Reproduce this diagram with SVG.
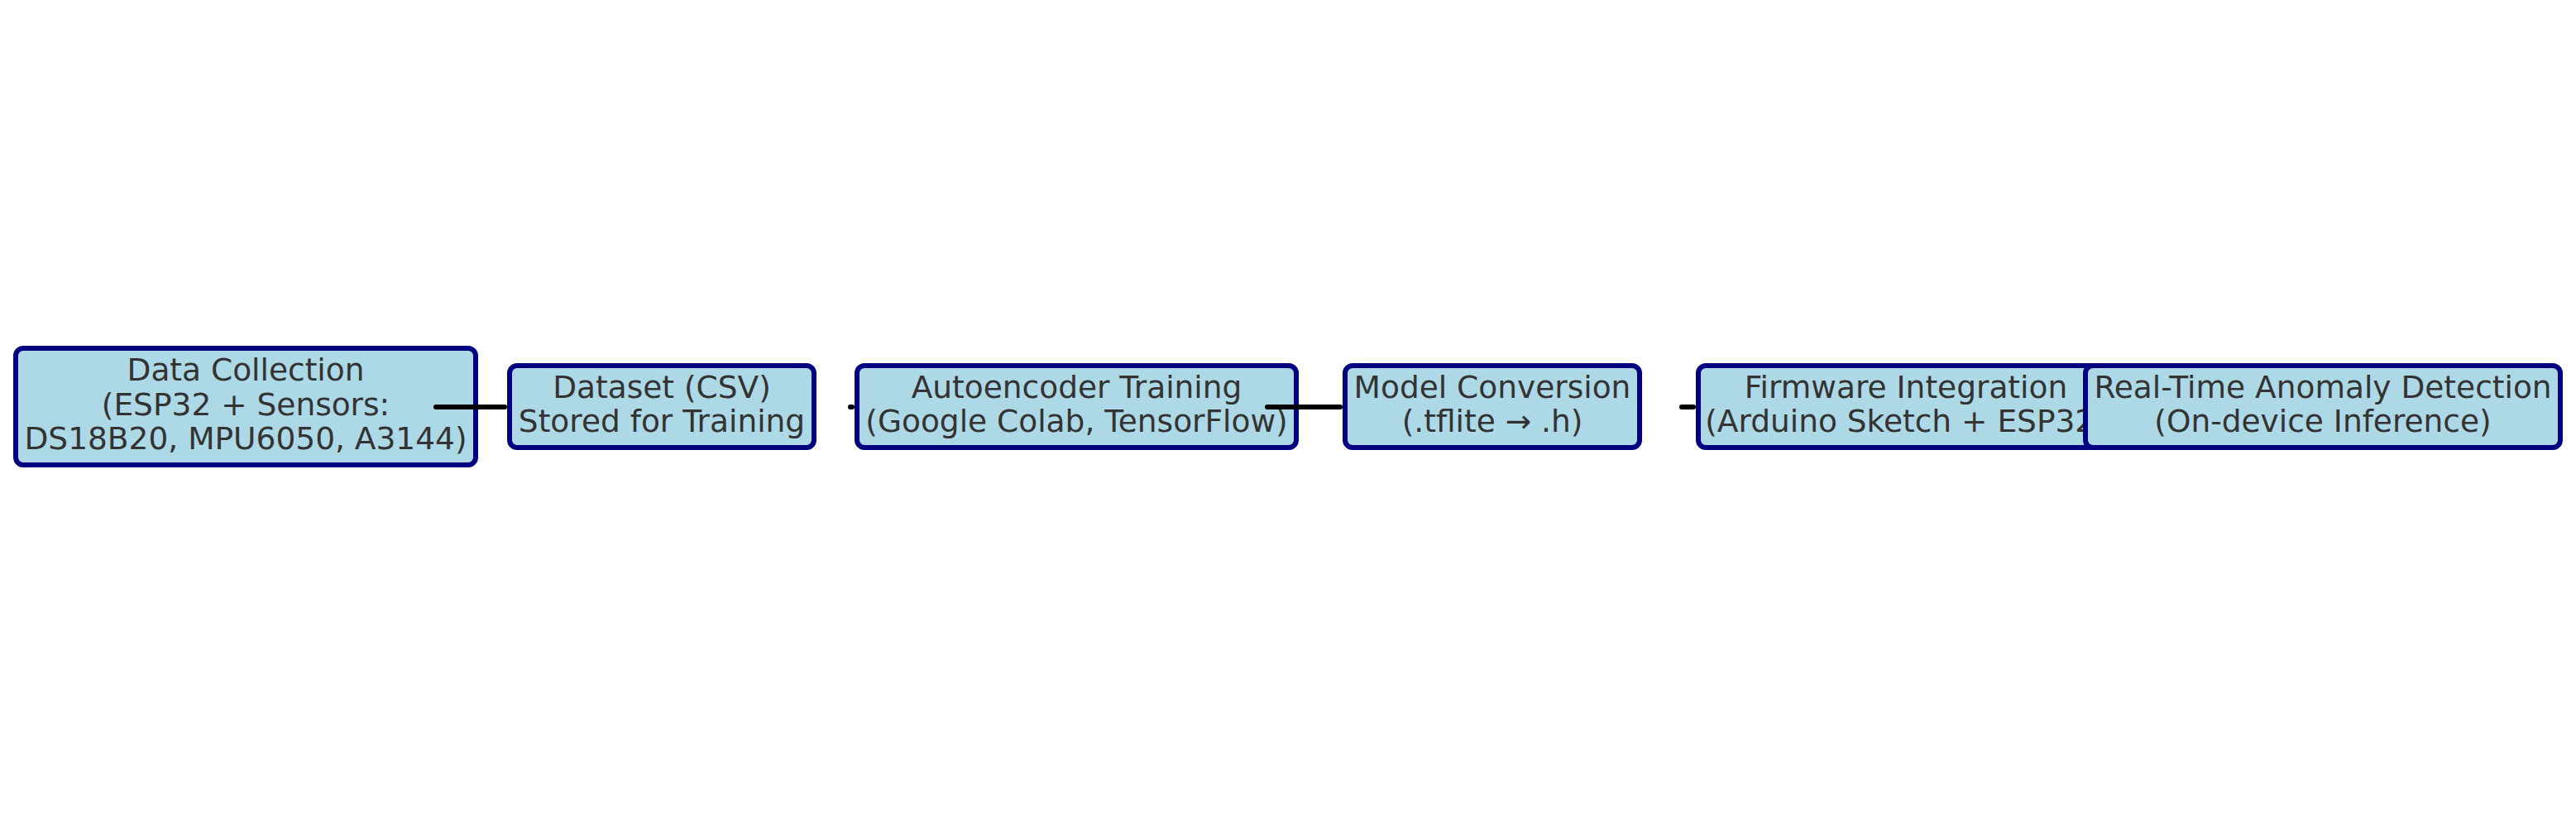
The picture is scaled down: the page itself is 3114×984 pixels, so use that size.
<svg xmlns="http://www.w3.org/2000/svg" width="3114" height="984" viewBox="0 0 3114 984">
<style>
.box{fill:#ADD8E6;stroke:#000080;stroke-width:6}
.t{font-family:"DejaVu Sans",sans-serif;font-size:37.5px;fill:#333333;text-anchor:middle}
.c{stroke:#000000;stroke-width:6;stroke-linecap:round;fill:none}
</style>
<rect width="3114" height="984" fill="#ffffff"/>
<g id="n1">
<rect class="box" x="19" y="421" width="556" height="141" rx="9"/>
<text class="t" x="297" y="460">Data Collection</text>
<text class="t" x="297" y="501.5">(ESP32 + Sensors:</text>
<text class="t" x="297" y="543">DS18B20, MPU6050, A3144)</text>
</g>
<g id="n2">
<rect class="box" x="616" y="442" width="368" height="99" rx="9"/>
<text class="t" x="800" y="481">Dataset (CSV)</text>
<text class="t" x="800" y="522">Stored for Training</text>
</g>
<g id="n3">
<rect class="box" x="1036" y="442" width="531" height="99" rx="9"/>
<text class="t" x="1301.5" y="481">Autoencoder Training</text>
<text class="t" x="1301.5" y="522">(Google Colab, TensorFlow)</text>
</g>
<g id="n4">
<rect class="box" x="1626" y="442" width="356" height="99" rx="9"/>
<text class="t" x="1804" y="481">Model Conversion</text>
<text class="t" x="1804" y="522">(.tflite → .h)</text>
</g>
<g id="n5">
<rect class="box" x="2053" y="442" width="502" height="99" rx="9"/>
<text class="t" x="2304" y="481">Firmware Integration</text>
<text class="t" x="2304" y="522">(Arduino Sketch + ESP32)</text>
</g>
<g id="n6">
<rect class="box" x="2521" y="442" width="574" height="99" rx="9"/>
<text class="t" x="2808" y="481">Real-Time Anomaly Detection</text>
<text class="t" x="2808" y="522">(On-device Inference)</text>
</g>
<g id="connectors">
<line class="c" x1="527" y1="492" x2="610" y2="492"/>
<line class="c" x1="1028" y1="492" x2="1030" y2="492"/>
<line class="c" x1="1532" y1="492" x2="1620" y2="492"/>
<line class="c" x1="2033" y1="492" x2="2047" y2="492"/>
</g>
</svg>
